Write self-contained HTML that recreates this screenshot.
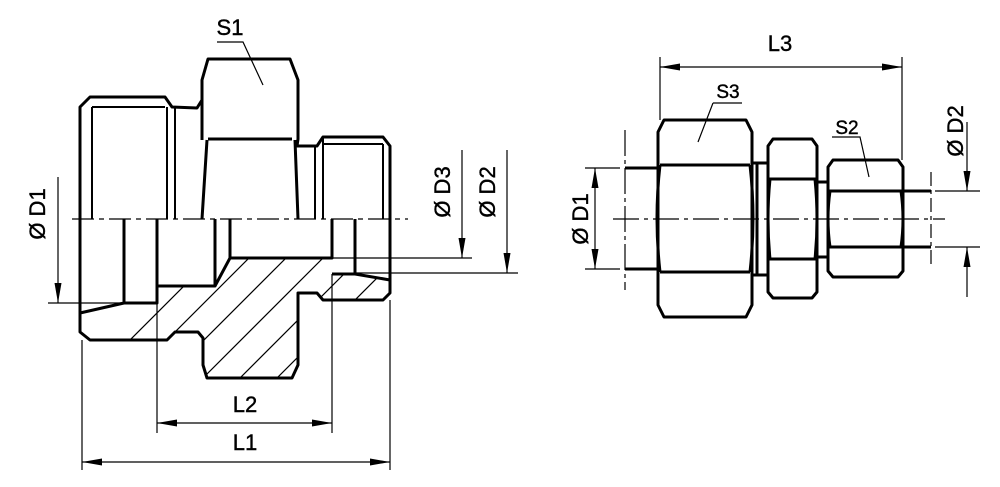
<!DOCTYPE html>
<html><head><meta charset="utf-8"><style>
html,body{margin:0;padding:0;background:#fff;}
svg{display:block;}
text{font-family:"Liberation Sans",sans-serif;font-size:22px;fill:#000;stroke:#000;stroke-width:0.4;}
</style></head><body>
<svg width="1000" height="487" viewBox="0 0 1000 487" xmlns="http://www.w3.org/2000/svg">
<defs>
<clipPath id="sec"><path d="M80,313 L124,303 L157,303 L157,286 L215,286 L230,258 L332,258 L332,274 L355,274 L390,280 L390,293 L383,300 L323,300 L317,293 L298,293 L298,365 L292,378 L207,378 L203,365 L203,338 L198,332 L175,332 L167,340 L90,340 L80,332 Z"/></clipPath>
</defs>
<g clip-path="url(#sec)" stroke="#000" stroke-width="1.2">
<path d="M50,420 L290,180 M87,420 L327,180 M124,420 L364,180 M161,420 L401,180 M198,420 L438,180 M235,420 L475,180 M272,420 L512,180 M309,420 L549,180 M346,420 L586,180"/>
</g>
<g fill="none" stroke="#000" stroke-width="3" stroke-linejoin="round">
<path d="M80,332 L80,107 L90,97 L165,97 L172,107 L197,108 L202,100 L202,80 L208,59 L290,59 L298,80 L298,139 L297,146 L317,146 L323,137 L383,137 L390,146 L390,293 L383,300 L323,300 L317,293 L298,293 L298,365 L292,378 L207,378 L203,365 L203,338 L198,332 L175,332 L167,340 L90,340 Z"/>
<path d="M202,80 L202,140 M208,139 L292,139 M207,140 L202,219 M295,140 L298,219"/>
<path d="M124,219 L124,303 L157,303 L157,219 M157,286 L215,286 L215,219 M215,286 L230,258 L230,219 M230,258 L332,258 L332,219 M332,274 L355,274 L355,219 M355,274 L390,280 M80,313 L124,303"/>
</g>
<g fill="none" stroke="#000" stroke-width="2">
<path d="M92,107 L92,219 M167,107 L167,219 M175,108 L175,219 M315,146 L315,219 M323,137 L323,219 M383,144 L383,219 M92,107 L165,107 M323,144 L383,144"/>
</g>
<g fill="none" stroke="#000" stroke-width="3" stroke-linejoin="round">
<path d="M664,120 L746,120 L752,132 L752,305 L746,317 L664,317 L658,305 L658,132 Z"/>
<path d="M660,165 L750,165 M660,272 L750,272 M660,165 Q654,218 660,272 M750,165 Q756,218 750,272"/>
<path d="M752,163 L768,163 M752,275 L768,275 M757,163 L757,275"/>
<path d="M773,139 L812,139 L817,146 L817,292 L812,298 L773,298 L768,292 L768,146 Z"/>
<path d="M769,179 L816,179 M769,259 L816,259 M770,179 Q766,219 770,259 M815,179 Q819,219 815,259"/>
<path d="M817,182 L828,182 M817,257 L828,257"/>
<path d="M833,160 L898,160 L903,167 L903,271 L898,277 L833,277 L828,271 L828,167 Z"/>
<path d="M829,191 L902,191 M829,247 L902,247 M830,191 Q826,219 830,247 M901,191 Q905,219 901,247"/>
<path d="M625,168 L658,168 M625,269 L658,269 M903,191 L931,191 M903,247 L931,247"/>
</g>
<g fill="none" stroke="#000" stroke-width="1.2">
<path d="M72,219 L408,219" stroke-dasharray="22,5,5,5"/>
<path d="M613,219 L945,219" stroke-dasharray="26,5,4,5"/>
<path d="M625,130 L625,290" stroke-dasharray="26,4,4,4"/>
<path d="M931,172 L931,267" stroke-dasharray="14,4,4,4"/>
<path d="M82,340 L82,470 M390,300 L390,470 M157,303 L157,433 M332,274 L332,433"/>
<path d="M82,462 L390,462"/>
<path d="M157,423 L332,423"/>
<path d="M58,177 L58,303"/>
<path d="M48,303 L124,303"/>
<path d="M462,150 L462,258"/>
<path d="M290,258 L472,258"/>
<path d="M507,150 L507,273"/>
<path d="M355,273 L518,273"/>
<path d="M217,42 L243,42 L263,85"/>
<path d="M660,57 L660,120 M902,57 L902,160"/>
<path d="M660,67 L902,67"/>
<path d="M585,168 L620,168 M585,269 L620,269"/>
<path d="M595,168 L595,269"/>
<path d="M935,191 L980,191 M935,247 L980,247"/>
<path d="M967,122 L967,191"/>
<path d="M967,297 L967,247"/>
<path d="M713,103 L742,103 M713,103 L698,142"/>
<path d="M832,137 L860,137 L869,177"/>
</g>
<g fill="#000">
<!-- horizontal arrows -->
<path d="M82,462 l20,-3.5 l0,7 z M390,462 l-20,-3.5 l0,7 z"/>
<path d="M157,423 l20,-3.5 l0,7 z M332,423 l-20,-3.5 l0,7 z"/>
<path d="M660,67 l20,-3.5 l0,7 z M902,67 l-20,-3.5 l0,7 z"/>
<!-- vertical arrows -->
<path d="M58,303 l-3.5,-20 l7,0 z"/>
<path d="M462,258 l-3.5,-20 l7,0 z"/>
<path d="M507,273 l-3.5,-20 l7,0 z"/>
<path d="M595,168 l-3.5,20 l7,0 z M595,269 l-3.5,-20 l7,0 z"/>
<path d="M967,191 l-3.5,-20 l7,0 z M967,247 l-3.5,20 l7,0 z"/>
</g>
<g>
<text x="230" y="35" text-anchor="middle">S1</text>
<text x="245" y="412" text-anchor="middle">L2</text>
<text x="245" y="450" text-anchor="middle">L1</text>
<text x="780" y="51" text-anchor="middle">L3</text>
<text x="728" y="98" text-anchor="middle" style="font-size:19px">S3</text>
<text x="847" y="134" text-anchor="middle" style="font-size:19px">S2</text>
<text transform="translate(45,214) rotate(-90)" text-anchor="middle">Ø D1</text>
<text transform="translate(450,192) rotate(-90)" text-anchor="middle">Ø D3</text>
<text transform="translate(495,192) rotate(-90)" text-anchor="middle">Ø D2</text>
<text transform="translate(588,219) rotate(-90)" text-anchor="middle">Ø D1</text>
<text transform="translate(963,131) rotate(-90)" text-anchor="middle">Ø D2</text>
</g>
</svg>
</body></html>
